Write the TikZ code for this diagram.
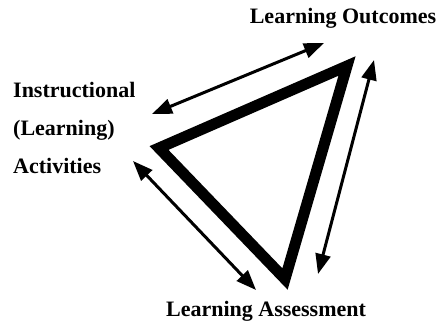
\documentclass[tikz,border=0pt]{standalone}
\usepackage{fontspec}
\setmainfont{Liberation Serif}
\usetikzlibrary{arrows.meta}

\begin{document}
\begin{tikzpicture}[x=1pt, y=-1pt,
    lbl/.style={font=\bfseries\fontsize{22}{38}\selectfont, inner sep=0pt},
    arr/.style={{Triangle[length=20pt,width=15pt]}-{Triangle[length=20pt,width=15pt]}, line width=3pt},
    tri/.style={line width=11pt, line join=miter}
]
\useasboundingbox (0,0) rectangle (438,327);
\node[lbl] (lo) at (343,18) {Learning Outcomes};
\node[lbl, align=left, anchor=west] (ia) at (13,128) {Instructional\\(Learning)\\Activities};
\node[lbl] (la) at (266,311) {Learning Assessment};

\coordinate (act) at (159,148);
\coordinate (out) at (347,66);
\coordinate (ass) at (285,279);
\draw[tri] (act) -- (out) -- (ass) -- cycle;

% arrows between the corners
\coordinate (ao1) at (152,114);
\coordinate (ao2) at (324,43);
\coordinate (os1) at (374,60);
\coordinate (os2) at (318,274);
\coordinate (sa1) at (256,290);
\coordinate (sa2) at (133,161);
\foreach \a/\b in {ao1/ao2, os1/os2, sa1/sa2}
  \draw[arr] (\a) -- (\b);
\end{tikzpicture}
\end{document}
